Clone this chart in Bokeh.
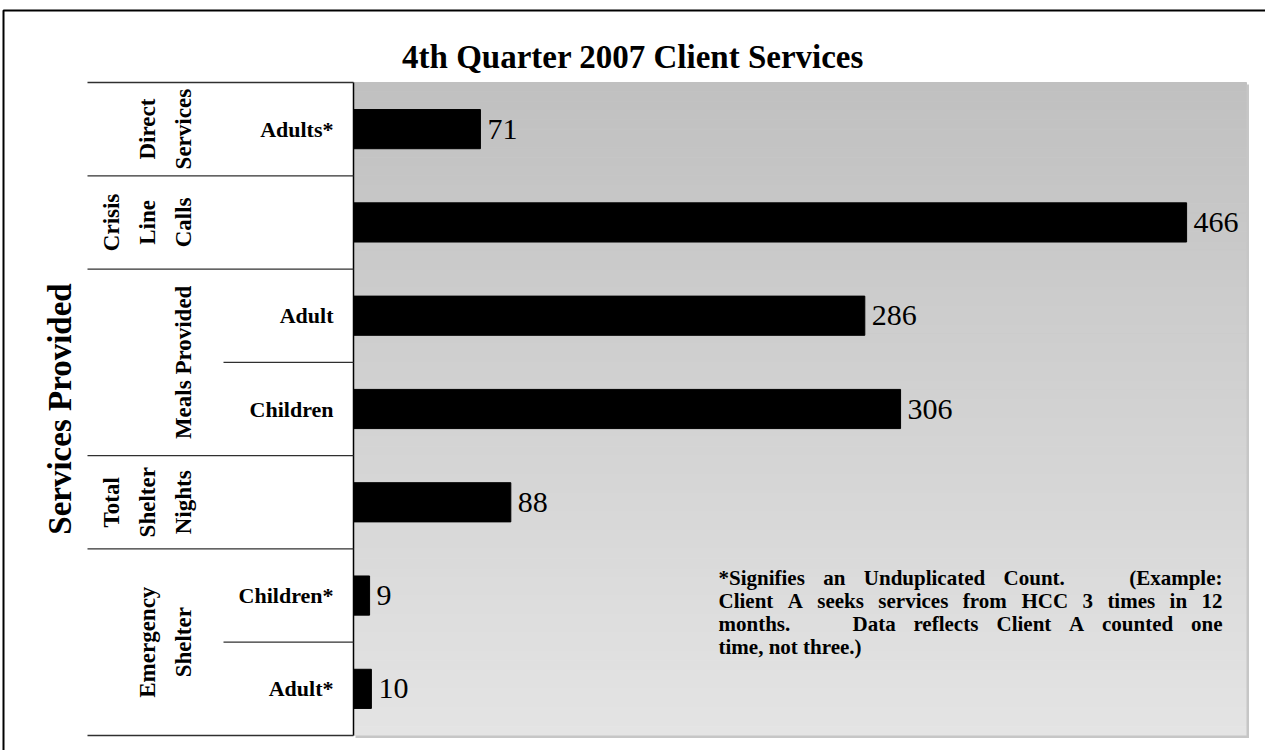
import math
import re
from bokeh.plotting import figure
from bokeh.models import Range1d
from bokeh.core.properties import value
from bokeh.embed import file_html
from bokeh.resources import INLINE

# ---------------- data ----------------
GROUPS = ["Direct\nServices", "Crisis\nLine\nCalls", "Meals Provided", "Meals Provided",
          "Total\nShelter\nNights", "Emergency\nShelter", "Emergency\nShelter"]
SUBCATS = ["Adults*", "", "Adult", "Children", "", "Children*", "Adult*"]
VALUES = [71, 466, 286, 306, 88, 9, 10]
TITLE = "4th Quarter 2007 Client Services"
AXIS_TITLE = "Services Provided"
NOTE_LINES = ["*Signifies an Unduplicated Count.  (Example:",
              "Client A seeks services from HCC 3 times in 12",
              "months.  Data reflects Client A counted one",
              "time, not three.)"]

# ---------------- layout (pixels) ----------------
W, H = 1265, 750
PLOT_L, PLOT_R, PLOT_T, PLOT_B = 353, 1246, 82, 735
XMAX = 499.5
N = len(VALUES)
SERIF = "Liberation Serif"

sx = (PLOT_R - PLOT_L) / XMAX
sy = (PLOT_B - PLOT_T) / N


def px_x(px):
    return (px - PLOT_L) / sx


def px_y(py):
    return (py - PLOT_T) / sy - 0.5


x_range = Range1d(px_x(0), px_x(W))
y_range = Range1d(start=px_y(H), end=px_y(0))

p = figure(width=W, height=H, x_range=x_range, y_range=y_range,
           output_backend="svg", toolbar_location=None, title=None,
           x_axis_type=None, y_axis_type=None, min_border=0,
           outline_line_color=None, background_fill_color="white",
           border_fill_color="white")
p.grid.visible = False

# gradient background of plot area
K = 70
top_c, bot_c = 192, 228
tops, bots, cols = [], [], []
for k in range(K):
    t = -0.5 + N * k / K
    b = -0.5 + N * (k + 1) / K
    g = round(top_c + (bot_c - top_c) * (k + 0.5) / K)
    tops.append(t)
    bots.append(b)
    cols.append("#%02x%02x%02x" % (g, g, g))
p.quad(left=0, right=XMAX, top=tops, bottom=bots, fill_color=cols,
       line_color=cols, line_width=1)

# shadow at right and bottom
p.quad(left=XMAX, right=XMAX + 2.5 / sx, top=-0.5 + 2 / sy, bottom=N - 0.5 + 2.5 / sy,
       fill_color="#c6c6c6", line_color=None)
p.quad(left=2 / sx, right=XMAX + 2.5 / sx, top=N - 0.5, bottom=N - 0.5 + 2.5 / sy,
       fill_color="#c6c6c6", line_color=None)

idx = list(range(N))

# bars
p.hbar(y=idx, left=0, right=VALUES, height=0.42, fill_color="black", line_color="black")

# value labels
p.text(x=VALUES, y=idx, text=[str(v) for v in VALUES], x_offset=7,
       text_baseline="middle", text_align="left", text_font=value(SERIF),
       text_font_size="30px", text_color="black")

# plot-area left edge
p.segment(x0=[0], y0=[-0.5], x1=[0], y1=[N - 0.5], line_color="black", line_width=1.5)

# table lines
seg_x0, seg_y = [], []
seg_x0.append(px_x(87))
seg_y.append(-0.5)
for i in range(N - 1):
    seg_x0.append(px_x(223) if GROUPS[i] == GROUPS[i + 1] else px_x(87))
    seg_y.append(i + 0.5)
seg_x0.append(px_x(87))
seg_y.append(N - 0.5)
p.segment(x0=seg_x0, y0=seg_y, x1=[0] * len(seg_y), y1=seg_y,
          line_color="#303030", line_width=1.3)

# sub-category labels
p.text(x=px_x(333), y=idx, text=SUBCATS, text_align="right", text_baseline="middle",
       text_font=value(SERIF), text_font_style="bold", text_font_size="22px",
       text_color="black")

# group labels (rotated, one column per line)
gx, gy, gt = [], [], []
i = 0
while i < N:
    j = i
    while j + 1 < N and GROUPS[j + 1] == GROUPS[i]:
        j += 1
    center = (i + j) / 2
    lines = GROUPS[i].split("\n")
    n = len(lines)
    for k, ln in enumerate(lines):
        gx.append(px_x(183 - (n - 1 - k) * 36))
        gy.append(center)
        gt.append(ln)
    i = j + 1
p.text(x=gx, y=gy, text=gt, angle=math.pi / 2, text_align="center",
       text_baseline="middle", text_font=value(SERIF), text_font_style="bold",
       text_font_size="23px", text_color="black")

# axis title
p.text(x=[px_x(59)], y=[(N - 1) / 2], text=[AXIS_TITLE], angle=math.pi / 2,
       text_align="center", text_baseline="middle", text_font=value(SERIF),
       text_font_style="bold", text_font_size="33px", text_color="black")

# chart title
p.text(x=[px_x(W / 2)], y=[px_y(56)], text=[TITLE], text_align="center",
       text_baseline="alphabetic", text_font=value(SERIF), text_font_style="bold",
       text_font_size="33px", text_color="black")

# justified note (Times-compatible bold metrics)
TB = {" ": 250, "!": 333, "(": 333, ")": 333, "*": 500, ",": 250, "-": 333, ".": 250,
      ":": 333, "A": 722, "B": 667, "C": 722, "D": 722, "E": 667, "F": 611, "G": 778,
      "H": 778, "I": 389, "J": 500, "K": 778, "L": 667, "M": 944, "N": 722, "O": 778,
      "P": 611, "Q": 778, "R": 722, "S": 556, "T": 667, "U": 722, "V": 722, "W": 1000,
      "X": 722, "Y": 722, "Z": 667, "a": 500, "b": 556, "c": 444, "d": 556, "e": 444,
      "f": 333, "g": 500, "h": 556, "i": 278, "j": 333, "k": 556, "l": 278, "m": 833,
      "n": 556, "o": 500, "p": 556, "q": 556, "r": 444, "s": 389, "t": 333, "u": 556,
      "v": 500, "w": 722, "x": 500, "y": 500, "z": 444}
NOTE_FS = 21
NOTE_L, NOTE_R = 718, 1222
NOTE_BASE, NOTE_LH = 577, 23
DOUBLE_GAP_WEIGHT = 3.5


def tw(s):
    return sum(TB.get(c, 500) for c in s) * NOTE_FS / 1000


nx, ny, nt = [], [], []
for li, line in enumerate(NOTE_LINES):
    base = NOTE_BASE + li * NOTE_LH
    if li == len(NOTE_LINES) - 1:
        nx.append(px_x(NOTE_L))
        ny.append(px_y(base))
        nt.append(line)
        continue
    parts = [s for s in re.split(r"( +)", line) if s]
    words = [s for s in parts if not s.startswith(" ")]
    gaps = [s for s in parts if s.startswith(" ")]
    weights = [1.0 if len(g) == 1 else DOUBLE_GAP_WEIGHT for g in gaps]
    free = NOTE_R - NOTE_L - sum(tw(w) for w in words)
    unit = free / sum(weights)
    cur = NOTE_L
    gi = 0
    for part in parts:
        if part.startswith(" "):
            cur += weights[gi] * unit
            gi += 1
        else:
            nx.append(px_x(cur))
            ny.append(px_y(base))
            nt.append(part)
            cur += tw(part)
p.text(x=nx, y=ny, text=nt, text_align="left", text_baseline="alphabetic",
       text_font=value(SERIF), text_font_style="bold",
       text_font_size="%dpx" % NOTE_FS, text_color="black")

# outer border
p.line(x=[px_x(3), px_x(3), px_x(W + 5)], y=[px_y(H + 5), px_y(10), px_y(10)],
       line_color="black", line_width=2)

open("out.html", "w").write(file_html(p, INLINE))
